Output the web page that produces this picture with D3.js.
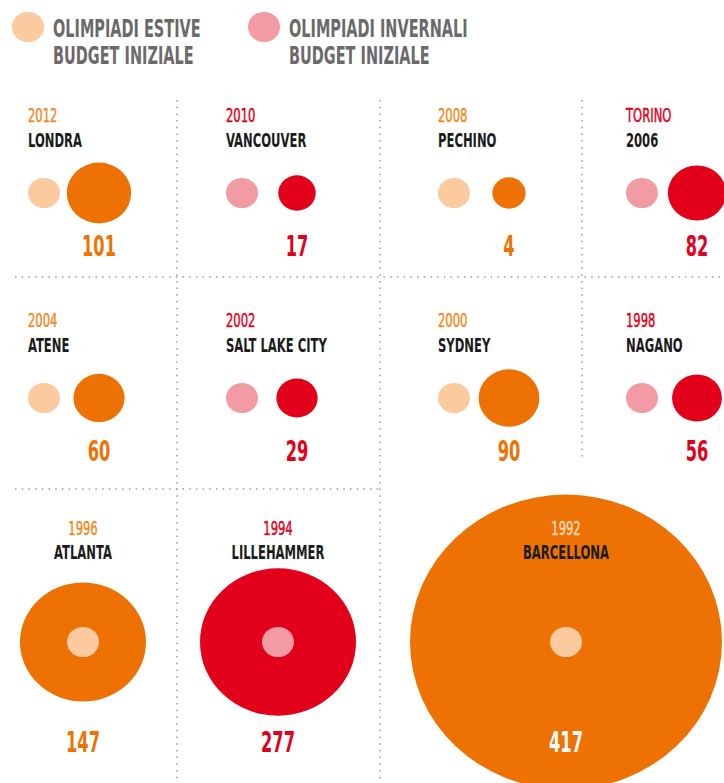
<!DOCTYPE html>
<html><head><meta charset="utf-8">
<script src="https://cdn.jsdelivr.net/npm/d3@7"></script>
<style>
html,body{margin:0;padding:0;background:#fff;}
svg{display:block;}
text{font-family:'Liberation Sans Narrow','DejaVu Sans Condensed','Liberation Sans',sans-serif;}
</style></head>
<body>
<svg id="chart" width="724" height="783"></svg>
<script>
// ---- data ----
const topLabels    = ["2012","2010","2008","TORINO","2004","2002","2000","1998","1996","1994","1992"];
const bottomLabels = ["LONDRA","VANCOUVER","PECHINO","2006","ATENE","SALT LAKE CITY","SYDNEY","NAGANO","ATLANTA","LILLEHAMMER","BARCELLONA"];
const seasons      = ["S","W","S","W","S","W","S","W","S","W","S"]; // S = estive, W = invernali
const overrun      = [101,17,4,82,60,29,90,56,147,277,417];   // % over initial budget
const legendLabels = [["OLIMPIADI ESTIVE","BUDGET INIZIALE"],["OLIMPIADI INVERNALI","BUDGET INIZIALE"]];

// ---- styles ----
const C = {
  S:{dark:"#ee7203", light:"#fbca9f", year:"#f08a1f"},
  W:{dark:"#e2001a", light:"#f29ba4", year:"#e2001a"},
  city:"#1b1b1b", legend:"#6a6a6a", grid:"#9a9a9a"
};
const SQ = 0.945; // vertical squash of the reference picture

const svg = d3.select("#chart");

// scale for small multiples: radius proportional to (100 + overrun)
const rSmall = d3.scaleLinear().domain([0,100]).range([0,16]);
// scale for the big bottom row
const bigVals = overrun.slice(8).map(v=>100+v);
const rBig = d3.scaleLinear().domain(bigVals).range([63,78,156]);

// measure to get horizontal compression for the condensed look
const probe = svg.append("text").attr("font-size",20).attr("font-weight","bold").text("LONDRA");
const SX = 54 / probe.node().getComputedTextLength();
probe.remove();

function label(g, txt, x, y, o){
  const t = g.append("text")
    .attr("transform",`translate(${x},${y}) scale(${SX},1)`)
    .attr("text-anchor",o.anchor||"start")
    .attr("font-size",o.size)
    .attr("font-weight",o.weight||"bold")
    .attr("fill",o.fill)
    .text(txt);
  if (o.stroke) t.attr("stroke",o.fill).attr("stroke-width",o.stroke);
  return t;
}

// ---- grid (dotted) ----
const gridG = svg.append("g").attr("stroke",C.grid).attr("stroke-width",1.5)
  .attr("stroke-dasharray","1.5,5.2").attr("fill","none");
[[177,100,177,783],[380,100,380,783],[582,100,582,460],[15,277,724,277],[15,489,380,489]]
  .forEach(l=>gridG.append("line").attr("x1",l[0]).attr("y1",l[1]).attr("x2",l[2]).attr("y2",l[3]));

// ---- legend ----
const legX = [28,264];
["S","W"].forEach((s,i)=>{
  const g = svg.append("g");
  g.append("ellipse").attr("cx",legX[i]).attr("cy",27).attr("rx",rSmall(100)).attr("ry",rSmall(100)*SQ).attr("fill",C[s].light);
  label(g, legendLabels[i][0], legX[i]+25, 37, {size:25, fill:C.legend});
  label(g, legendLabels[i][1], legX[i]+25, 64, {size:25, fill:C.legend});
});

// ---- small multiples (rows 1-2) ----
const colX = [28,226,438,626];
const rowY = [122,327];
d3.range(8).forEach(i=>{
  const s = seasons[i];
  const x = colX[i%4], y = rowY[Math.floor(i/4)];
  const g = svg.append("g");
  label(g, topLabels[i], x, y, {size:20, weight:"normal", fill:C[s].year, stroke:0.5});
  label(g, bottomLabels[i], x, y+25, {size:20, fill:C.city});
  const cy = y+71;
  const rl = rSmall(100), rd = rSmall(100+overrun[i]);
  g.append("ellipse").attr("cx",x+16).attr("cy",cy).attr("rx",rl).attr("ry",rl*SQ).attr("fill",C[s].light);
  g.append("ellipse").attr("cx",x+71).attr("cy",cy).attr("rx",rd).attr("ry",rd*SQ).attr("fill",C[s].dark);
  label(g, overrun[i], x+71, y+134, {size:28, fill:C[s].dark, anchor:"middle"});
});

// ---- big row ----
const bigX = [83,278,566];
d3.range(8,11).forEach((i,k)=>{
  const s = seasons[i];
  const x = bigX[k];
  const g = svg.append("g");
  const cy = 642;
  const R = rBig(100+overrun[i]), rl = rSmall(100);
  g.append("ellipse").attr("cx",x).attr("cy",cy).attr("rx",R).attr("ry",R*SQ).attr("fill",C[s].dark);
  g.append("ellipse").attr("cx",x).attr("cy",cy).attr("rx",rl).attr("ry",rl*SQ).attr("fill",C[s].light);
  const inside = R > 120;
  const yc = inside ? "#fcd9b8" : C[s].year;
  label(g, topLabels[i], x, 535, {size:20, weight:"normal", fill:yc, stroke:0.5, anchor:"middle"});
  label(g, bottomLabels[i], x, 559, {size:20, fill:C.city, anchor:"middle"});
  label(g, overrun[i], x, 752, {size:28, fill: inside ? "#ffffff" : C[s].dark, anchor:"middle"});
});
</script>
</body></html>
